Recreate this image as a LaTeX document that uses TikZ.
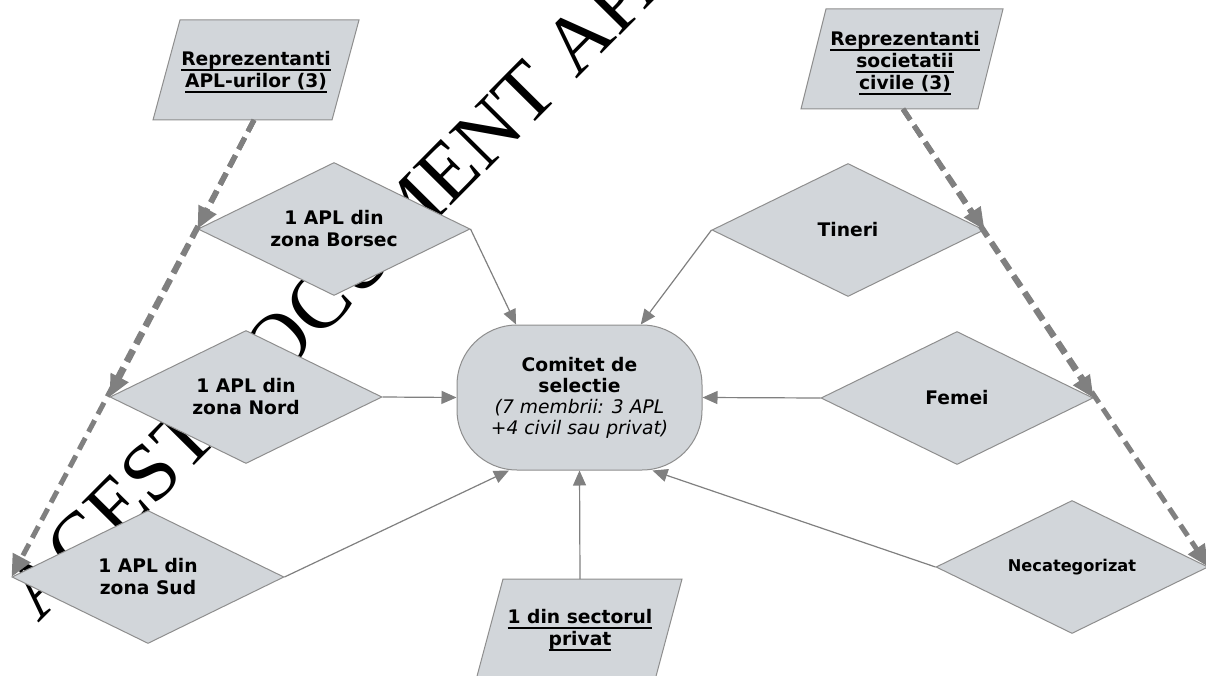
\documentclass[tikz,border=0pt]{standalone}
\usepackage{fontspec}
\setmainfont{DejaVu Sans}
\newfontfamily\wmfont{Liberation Serif}
\usetikzlibrary{shapes.geometric,arrows.meta}
\definecolor{boxfill}{HTML}{D2D6DA}
\definecolor{boxline}{HTML}{8E8E8E}
\definecolor{arrcol}{HTML}{808080}
\newcommand\myul[1]{\setbox0\hbox{#1}\rlap{\rule[-5pt]{\wd0}{1.8pt}}\box0}
\tikzset{
  dia/.style={diamond, draw=boxline, fill=boxfill, line width=1pt,
    minimum width=272pt, minimum height=133pt, inner sep=0pt, aspect=2,
    align=center, font=\fontsize{18.7}{22}\selectfont\bfseries},
  para/.style={draw=boxline, fill=boxfill, line width=1pt},
  ptxt/.style={align=center, inner sep=0pt, font=\fontsize{18.7}{22}\selectfont\bfseries},
  lnk/.style={draw=arrcol, line width=1.2pt, -{Triangle[length=15pt,width=13pt]}},
  dsh/.style={draw=arrcol, line width=5pt, dash pattern=on 13pt off 7pt,
    -{Triangle[length=22pt,width=19pt]}},
}
\begin{document}
\begin{tikzpicture}[x=1pt,y=-1pt]
\useasboundingbox (0,0) rectangle (1206,676);
\clip (0,0) rectangle (1206,676);
\fill[white] (0,0) rectangle (1206,676);
% watermark
\node[anchor=base west, rotate=45.3, inner sep=0pt, font=\wmfont\fontsize{82}{82}\selectfont] (wm) at (38,624) {ACEST DOCUMENT APA};
% parallelograms
\path[para] (180,20) -- (359,20) -- (332,120) -- (153,120) -- cycle;
\node[ptxt] (apl) at (256,72) {\myul{Reprezentanti}\\\myul{APL-urilor (3)}};
\coordinate (aplb) at (254,120);
\path[para] (826,9) -- (1003,9) -- (978,109) -- (801,109) -- cycle;
\node[ptxt] (civ) at (905,63) {\myul{Reprezentanti}\\\myul{societatii}\\\myul{civile (3)}};
\coordinate (civb) at (903,109);
\path[para] (503,579) -- (682,579) -- (655,680) -- (476,680) -- cycle;
\node[ptxt] (priv) at (580,630) {\myul{1 din sectorul}\\\myul{privat}};
\coordinate (privt) at (580,579);
% diamonds
\node[dia] (borsec) at (334,229) {1 APL din\\zona Borsec};
\node[dia] (nord) at (246,397) {1 APL din\\zona Nord};
\node[dia] (sud) at (148,577) {1 APL din\\zona Sud};
\node[dia] (tineri) at (848,230) {Tineri};
\node[dia] (femei) at (957,398) {Femei};
\node[dia, font=\fontsize{16.2}{20}\selectfont\bfseries] (necat) at (1072,567) {Necategorizat};
% committee
\node[draw=boxline, fill=boxfill, line width=1pt, rounded corners=60pt,
  minimum width=245pt, minimum height=145pt, inner sep=0pt, align=center,
  font=\fontsize{18.7}{21}\selectfont] (com) at (579.5,397.5)
  {\textbf{Comitet de}\\\textbf{selectie}\\\textit{(7 membrii: 3 APL}\\\textit{+4 civil sau privat)}};
% thin connectors
\draw[lnk] (borsec.east) -- (com.131);
\draw[lnk] (tineri.west) -- (com.50);
\draw[lnk] (nord.east) -- (com.west);
\draw[lnk] (femei.west) -- (com.east);
\draw[lnk] (sud.east) -- (com.226);
\draw[lnk] (necat.west) -- (com.315);
\draw[lnk] (privt) -- (com.south);
% dashed connectors
\draw[dsh] (aplb) -- (borsec.west);
\draw[dsh] (aplb) -- (nord.west);
\draw[dsh] (aplb) -- (sud.west);
\draw[dsh] (civb) -- (tineri.east);
\draw[dsh] (civb) -- (femei.east);
\draw[dsh] (civb) -- (necat.east);
\end{tikzpicture}
\end{document}
